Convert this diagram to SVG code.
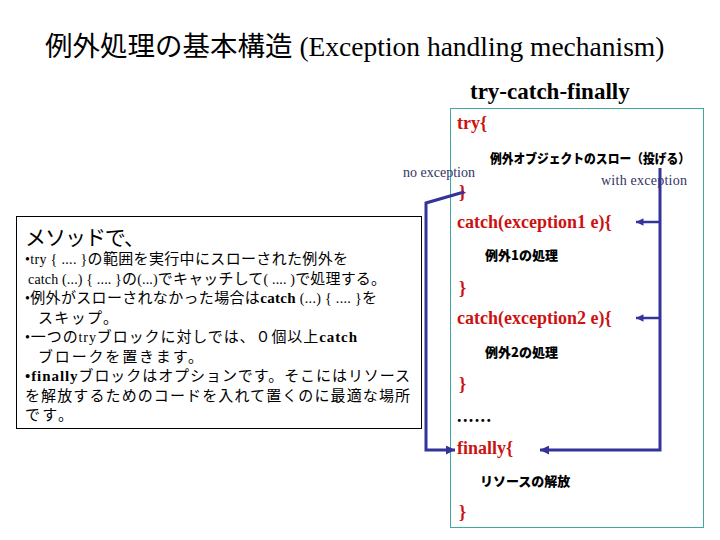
<svg xmlns="http://www.w3.org/2000/svg" width="720" height="540" viewBox="0 0 720 540">
<defs>
<marker id="ah" viewBox="0 0 10 10" refX="10" refY="5" markerWidth="3" markerHeight="3" orient="auto" markerUnits="strokeWidth">
<path d="M0,0 L10,5 L0,10 z" fill="#333399"/>
</marker>
<style>
.jp{font-family:"Noto Sans CJK JP","Noto Sans",sans-serif;}
.jpb{font-family:"Noto Sans CJK JP","Noto Sans",sans-serif;font-weight:900;font-size:13px;fill:#000;}
.ser{font-family:"Liberation Serif",serif;}
.code{font-family:"Liberation Serif",serif;font-weight:bold;fill:#cc1111;font-size:18px;}
.lbl{font-family:"Liberation Serif",serif;font-size:14px;fill:#333366;}
.body{font-size:15px;fill:#000;}
.b{font-weight:bold;}
.conn{fill:none;stroke:#333399;}
</style>
</defs>
<rect width="720" height="540" fill="#ffffff"/>

<g id="title">
<text x="45" y="56" font-size="27.5"><tspan class="jp">例外処理の基本構造</tspan><tspan class="ser"> (Exception handling mechanism)</tspan></text>
</g>

<g id="subtitle">
<text x="470" y="99" class="ser b" font-size="23">try-catch-finally</text>
</g>

<g id="code-box">
<rect x="450.5" y="108.5" width="253" height="419" fill="none" stroke="#40a8a0" stroke-width="1"/>
<text x="457" y="129" class="code" font-size="17">try{</text>
<text x="490" y="163" class="jpb" textLength="200" lengthAdjust="spacingAndGlyphs">例外オブジェクトのスロー（投げる）</text>
<text x="459" y="198" class="code" font-size="17">}</text>
<text x="457" y="228" class="code">catch(exception1 e){</text>
<text x="485" y="260" class="jpb">例外1の処理</text>
<text x="459" y="294" class="code" font-size="17">}</text>
<text x="457" y="324" class="code">catch(exception2 e){</text>
<text x="485" y="357" class="jpb">例外2の処理</text>
<text x="459" y="390" class="code" font-size="17">}</text>
<text x="457" y="422" class="ser b" font-size="18" textLength="34">......</text>
<text x="457" y="454" class="code">finally{</text>
<text x="480" y="486" class="jpb">リソースの解放</text>
<text x="459" y="518" class="code" font-size="17">}</text>
</g>

<g id="explanation">
<rect x="16.5" y="216.5" width="405" height="212" fill="#ffffff" stroke="#000" stroke-width="1"/>
<text x="25" y="245" class="jp" font-size="21" textLength="120">メソッドで、</text>
<text x="25" y="264" class="body" textLength="323"><tspan class="ser" font-size="14">•try { .... }</tspan><tspan class="jp">の範囲を実行中にスローされた例外を</tspan></text>
<text x="28" y="283.5" class="body" textLength="358"><tspan class="ser" font-size="14">catch (...) { .... }</tspan><tspan class="jp">の</tspan><tspan class="ser" font-size="14">(...)</tspan><tspan class="jp">でキャッチして</tspan><tspan class="ser" font-size="14">( .... )</tspan><tspan class="jp">で処理する。</tspan></text>
<text x="25" y="303" class="body" textLength="352"><tspan class="ser" font-size="14">•</tspan><tspan class="jp">例外がスローされなかった場合は</tspan><tspan class="ser b" font-size="15">catch</tspan><tspan class="ser" font-size="14"> (...) { .... }</tspan><tspan class="jp">を</tspan></text>
<text x="38" y="322.5" class="body jp" textLength="80">スキップ。</text>
<text x="25" y="342" class="body" textLength="332"><tspan class="ser" font-size="14">•</tspan><tspan class="jp">一つの</tspan><tspan class="ser" font-size="14">try</tspan><tspan class="jp">ブロックに対しでは、０個以上</tspan><tspan class="ser b" font-size="15">catch</tspan></text>
<text x="38" y="361.5" class="body jp" textLength="165">ブロークを置きます。</text>
<text x="25" y="381" class="body" textLength="385"><tspan class="ser b" font-size="15">•finally</tspan><tspan class="jp">ブロックはオプションです。そこにはリソース</tspan></text>
<text x="25" y="400.5" class="body jp" textLength="385">を解放するためのコードを入れて置くのに最適な場所</text>
<text x="25" y="420" class="body jp" textLength="48">です。</text>
</g>

<g id="labels">
<text x="403" y="177" class="lbl">no exception</text>
<text x="601" y="185" class="lbl" textLength="86">with  exception</text>
</g>

<g id="connectors">
<path class="conn" d="M464,192 L426,203 L426,450 L455,450" stroke-width="3" marker-end="url(#ah)"/>
<path class="conn" d="M660,168 L660,450 L540,450" stroke-width="3" marker-end="url(#ah)"/>
<path class="conn" d="M660,222 L636,222" stroke-width="2.5" marker-end="url(#ah)"/>
<path class="conn" d="M660,318 L636,318" stroke-width="2.5" marker-end="url(#ah)"/>
</g>
</svg>
